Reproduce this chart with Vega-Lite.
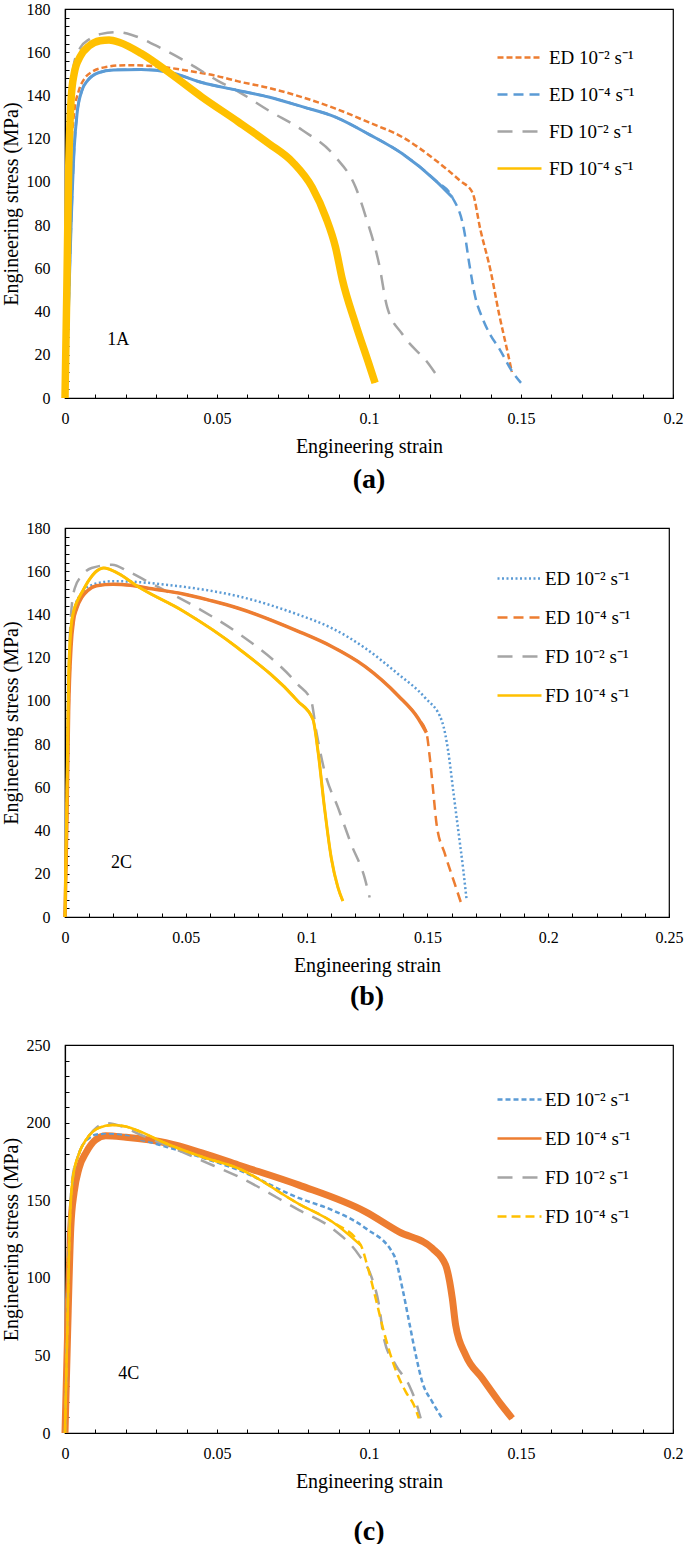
{
"$schema": "https://vega.github.io/schema/vega-lite/v6.json",
"padding": {"left": 0, "top": 0, "right": 5, "bottom": 5},
"background": "white",
"spacing": 24,
"resolve": {"scale": {"color": "independent", "strokeDash": "independent", "x": "independent", "y": "independent"}, "legend": {"color": "independent", "strokeDash": "independent"}},
"config": {
 "font": "Liberation Serif",
 "view": {"stroke": "#000", "strokeWidth": 1.2},
 "line": {"interpolate": "monotone"},
 "axis": {"grid": false, "domainColor": "#000", "domainWidth": 1.2, "tickColor": "#000", "tickSize": -4, "tickWidth": 1, "tickCount": 100, "labelColor": "#000", "labelFont": "Liberation Serif", "labelFontSize": 16, "titleFont": "Liberation Serif", "titleFontSize": 20, "titleFontWeight": "normal", "titleColor": "#000", "labelOverlap": false, "labelFlush": false},
 "axisX": {"labelPadding": 16, "titlePadding": 10},
 "axisY": {"labelPadding": 19, "titlePadding": 5},
 "legend": {"orient": "none", "labelFont": "Liberation Serif", "labelFontSize": 19, "labelColor": "#000", "symbolSize": 1936, "symbolStrokeWidth": 2.5, "symbolType": "stroke"},
 "title": {"font": "Liberation Serif", "fontSize": 28, "fontWeight": "bold", "color": "#000", "orient": "bottom", "frame": "group", "anchor": "middle"}
},
"datasets": {
 "a": [
  {"series": "ED 10⁻² s⁻¹", "phase": "hardening", "strain": 0, "stress": 0},
  {"series": "ED 10⁻² s⁻¹", "phase": "hardening", "strain": 0.0006, "stress": 40},
  {"series": "ED 10⁻² s⁻¹", "phase": "hardening", "strain": 0.0012, "stress": 85},
  {"series": "ED 10⁻² s⁻¹", "phase": "hardening", "strain": 0.002, "stress": 115},
  {"series": "ED 10⁻² s⁻¹", "phase": "hardening", "strain": 0.003, "stress": 132},
  {"series": "ED 10⁻² s⁻¹", "phase": "hardening", "strain": 0.0045, "stress": 142},
  {"series": "ED 10⁻² s⁻¹", "phase": "hardening", "strain": 0.0065, "stress": 148},
  {"series": "ED 10⁻² s⁻¹", "phase": "hardening", "strain": 0.009, "stress": 151},
  {"series": "ED 10⁻² s⁻¹", "phase": "hardening", "strain": 0.013, "stress": 153},
  {"series": "ED 10⁻² s⁻¹", "phase": "hardening", "strain": 0.02, "stress": 154},
  {"series": "ED 10⁻² s⁻¹", "phase": "hardening", "strain": 0.03, "stress": 153.5},
  {"series": "ED 10⁻² s⁻¹", "phase": "hardening", "strain": 0.04, "stress": 151.5},
  {"series": "ED 10⁻² s⁻¹", "phase": "hardening", "strain": 0.05, "stress": 149},
  {"series": "ED 10⁻² s⁻¹", "phase": "hardening", "strain": 0.057, "stress": 146.5},
  {"series": "ED 10⁻² s⁻¹", "phase": "hardening", "strain": 0.067, "stress": 143.5},
  {"series": "ED 10⁻² s⁻¹", "phase": "hardening", "strain": 0.078, "stress": 139.2},
  {"series": "ED 10⁻² s⁻¹", "phase": "hardening", "strain": 0.089, "stress": 133.9},
  {"series": "ED 10⁻² s⁻¹", "phase": "hardening", "strain": 0.1, "stress": 127.5},
  {"series": "ED 10⁻² s⁻¹", "phase": "hardening", "strain": 0.111, "stress": 120.7},
  {"series": "ED 10⁻² s⁻¹", "phase": "hardening", "strain": 0.122, "stress": 109.9},
  {"series": "ED 10⁻² s⁻¹", "phase": "hardening", "strain": 0.13, "stress": 100.5},
  {"series": "ED 10⁻² s⁻¹", "phase": "hardening", "strain": 0.134, "stress": 95.2},
  {"series": "ED 10⁻² s⁻¹", "phase": "fracture", "strain": 0.1367, "stress": 77.5},
  {"series": "ED 10⁻² s⁻¹", "phase": "fracture", "strain": 0.14, "stress": 58.9},
  {"series": "ED 10⁻² s⁻¹", "phase": "fracture", "strain": 0.1428, "stress": 38.8},
  {"series": "ED 10⁻² s⁻¹", "phase": "fracture", "strain": 0.1455, "stress": 21.8},
  {"series": "ED 10⁻² s⁻¹", "phase": "fracture", "strain": 0.147, "stress": 12},
  {"series": "ED 10⁻⁴ s⁻¹", "phase": "hardening", "strain": 0, "stress": 0},
  {"series": "ED 10⁻⁴ s⁻¹", "phase": "hardening", "strain": 0.001, "stress": 35},
  {"series": "ED 10⁻⁴ s⁻¹", "phase": "hardening", "strain": 0.002, "stress": 80},
  {"series": "ED 10⁻⁴ s⁻¹", "phase": "hardening", "strain": 0.003, "stress": 115},
  {"series": "ED 10⁻⁴ s⁻¹", "phase": "hardening", "strain": 0.004, "stress": 132},
  {"series": "ED 10⁻⁴ s⁻¹", "phase": "hardening", "strain": 0.0055, "stress": 142},
  {"series": "ED 10⁻⁴ s⁻¹", "phase": "hardening", "strain": 0.0075, "stress": 147},
  {"series": "ED 10⁻⁴ s⁻¹", "phase": "hardening", "strain": 0.011, "stress": 150.5},
  {"series": "ED 10⁻⁴ s⁻¹", "phase": "hardening", "strain": 0.016, "stress": 151.8},
  {"series": "ED 10⁻⁴ s⁻¹", "phase": "hardening", "strain": 0.025, "stress": 152},
  {"series": "ED 10⁻⁴ s⁻¹", "phase": "hardening", "strain": 0.035, "stress": 150.5},
  {"series": "ED 10⁻⁴ s⁻¹", "phase": "hardening", "strain": 0.045, "stress": 146},
  {"series": "ED 10⁻⁴ s⁻¹", "phase": "hardening", "strain": 0.057, "stress": 142.3},
  {"series": "ED 10⁻⁴ s⁻¹", "phase": "hardening", "strain": 0.067, "stress": 139.3},
  {"series": "ED 10⁻⁴ s⁻¹", "phase": "hardening", "strain": 0.078, "stress": 134.8},
  {"series": "ED 10⁻⁴ s⁻¹", "phase": "hardening", "strain": 0.089, "stress": 130},
  {"series": "ED 10⁻⁴ s⁻¹", "phase": "hardening", "strain": 0.1, "stress": 122},
  {"series": "ED 10⁻⁴ s⁻¹", "phase": "hardening", "strain": 0.111, "stress": 113},
  {"series": "ED 10⁻⁴ s⁻¹", "phase": "hardening", "strain": 0.1219, "stress": 100.6},
  {"series": "ED 10⁻⁴ s⁻¹", "phase": "hardening", "strain": 0.1274, "stress": 92.9},
  {"series": "ED 10⁻⁴ s⁻¹", "phase": "fracture", "strain": 0.1313, "stress": 77.5},
  {"series": "ED 10⁻⁴ s⁻¹", "phase": "fracture", "strain": 0.133, "stress": 62},
  {"series": "ED 10⁻⁴ s⁻¹", "phase": "fracture", "strain": 0.135, "stress": 46.5},
  {"series": "ED 10⁻⁴ s⁻¹", "phase": "fracture", "strain": 0.1373, "stress": 37},
  {"series": "ED 10⁻⁴ s⁻¹", "phase": "fracture", "strain": 0.14, "stress": 29},
  {"series": "ED 10⁻⁴ s⁻¹", "phase": "fracture", "strain": 0.1428, "stress": 23},
  {"series": "ED 10⁻⁴ s⁻¹", "phase": "fracture", "strain": 0.147, "stress": 12.5},
  {"series": "ED 10⁻⁴ s⁻¹", "phase": "fracture", "strain": 0.15, "stress": 7},
  {"series": "FD 10⁻² s⁻¹", "phase": "hardening", "strain": 0, "stress": 0},
  {"series": "FD 10⁻² s⁻¹", "phase": "hardening", "strain": 0.0006, "stress": 50},
  {"series": "FD 10⁻² s⁻¹", "phase": "hardening", "strain": 0.0012, "stress": 105},
  {"series": "FD 10⁻² s⁻¹", "phase": "hardening", "strain": 0.002, "stress": 140},
  {"series": "FD 10⁻² s⁻¹", "phase": "hardening", "strain": 0.003, "stress": 155},
  {"series": "FD 10⁻² s⁻¹", "phase": "hardening", "strain": 0.005, "stress": 162},
  {"series": "FD 10⁻² s⁻¹", "phase": "hardening", "strain": 0.008, "stress": 166},
  {"series": "FD 10⁻² s⁻¹", "phase": "hardening", "strain": 0.012, "stress": 168.5},
  {"series": "FD 10⁻² s⁻¹", "phase": "hardening", "strain": 0.017, "stress": 169.3},
  {"series": "FD 10⁻² s⁻¹", "phase": "hardening", "strain": 0.022, "stress": 168},
  {"series": "FD 10⁻² s⁻¹", "phase": "hardening", "strain": 0.03, "stress": 163},
  {"series": "FD 10⁻² s⁻¹", "phase": "hardening", "strain": 0.04, "stress": 155.5},
  {"series": "FD 10⁻² s⁻¹", "phase": "hardening", "strain": 0.05, "stress": 147},
  {"series": "FD 10⁻² s⁻¹", "phase": "hardening", "strain": 0.057, "stress": 141.8},
  {"series": "FD 10⁻² s⁻¹", "phase": "hardening", "strain": 0.067, "stress": 133},
  {"series": "FD 10⁻² s⁻¹", "phase": "hardening", "strain": 0.078, "stress": 124},
  {"series": "FD 10⁻² s⁻¹", "phase": "hardening", "strain": 0.089, "stress": 111.5},
  {"series": "FD 10⁻² s⁻¹", "phase": "hardening", "strain": 0.0956, "stress": 97.5},
  {"series": "FD 10⁻² s⁻¹", "phase": "fracture", "strain": 0.099, "stress": 83.6},
  {"series": "FD 10⁻² s⁻¹", "phase": "fracture", "strain": 0.1033, "stress": 62},
  {"series": "FD 10⁻² s⁻¹", "phase": "fracture", "strain": 0.106, "stress": 41.9},
  {"series": "FD 10⁻² s⁻¹", "phase": "fracture", "strain": 0.111, "stress": 29.5},
  {"series": "FD 10⁻² s⁻¹", "phase": "fracture", "strain": 0.1197, "stress": 15.6},
  {"series": "FD 10⁻² s⁻¹", "phase": "fracture", "strain": 0.122, "stress": 11},
  {"series": "FD 10⁻⁴ s⁻¹", "phase": "hardening", "strain": 0, "stress": 0},
  {"series": "FD 10⁻⁴ s⁻¹", "phase": "hardening", "strain": 0.0006, "stress": 50},
  {"series": "FD 10⁻⁴ s⁻¹", "phase": "hardening", "strain": 0.0012, "stress": 105},
  {"series": "FD 10⁻⁴ s⁻¹", "phase": "hardening", "strain": 0.002, "stress": 138},
  {"series": "FD 10⁻⁴ s⁻¹", "phase": "hardening", "strain": 0.003, "stress": 150},
  {"series": "FD 10⁻⁴ s⁻¹", "phase": "hardening", "strain": 0.005, "stress": 158},
  {"series": "FD 10⁻⁴ s⁻¹", "phase": "hardening", "strain": 0.008, "stress": 163},
  {"series": "FD 10⁻⁴ s⁻¹", "phase": "hardening", "strain": 0.0115, "stress": 165.3},
  {"series": "FD 10⁻⁴ s⁻¹", "phase": "hardening", "strain": 0.0145, "stress": 165.7},
  {"series": "FD 10⁻⁴ s⁻¹", "phase": "hardening", "strain": 0.018, "stress": 164.5},
  {"series": "FD 10⁻⁴ s⁻¹", "phase": "hardening", "strain": 0.025, "stress": 159.5},
  {"series": "FD 10⁻⁴ s⁻¹", "phase": "hardening", "strain": 0.035, "stress": 149.8},
  {"series": "FD 10⁻⁴ s⁻¹", "phase": "hardening", "strain": 0.045, "stress": 139.3},
  {"series": "FD 10⁻⁴ s⁻¹", "phase": "hardening", "strain": 0.057, "stress": 127.8},
  {"series": "FD 10⁻⁴ s⁻¹", "phase": "hardening", "strain": 0.067, "stress": 117.8},
  {"series": "FD 10⁻⁴ s⁻¹", "phase": "hardening", "strain": 0.075, "stress": 109},
  {"series": "FD 10⁻⁴ s⁻¹", "phase": "hardening", "strain": 0.0813, "stress": 97.5},
  {"series": "FD 10⁻⁴ s⁻¹", "phase": "fracture", "strain": 0.0858, "stress": 83.6},
  {"series": "FD 10⁻⁴ s⁻¹", "phase": "fracture", "strain": 0.089, "stress": 69.7},
  {"series": "FD 10⁻⁴ s⁻¹", "phase": "fracture", "strain": 0.0912, "stress": 55},
  {"series": "FD 10⁻⁴ s⁻¹", "phase": "fracture", "strain": 0.0956, "stress": 34.2},
  {"series": "FD 10⁻⁴ s⁻¹", "phase": "fracture", "strain": 0.1, "stress": 15.6},
  {"series": "FD 10⁻⁴ s⁻¹", "phase": "fracture", "strain": 0.102, "stress": 7}
 ],
 "b": [
  {"series": "ED 10⁻² s⁻¹", "phase": "hardening", "strain": 0, "stress": 0},
  {"series": "ED 10⁻² s⁻¹", "phase": "hardening", "strain": 0.0008, "stress": 50},
  {"series": "ED 10⁻² s⁻¹", "phase": "hardening", "strain": 0.0015, "stress": 100},
  {"series": "ED 10⁻² s⁻¹", "phase": "hardening", "strain": 0.0025, "stress": 130},
  {"series": "ED 10⁻² s⁻¹", "phase": "hardening", "strain": 0.004, "stress": 143},
  {"series": "ED 10⁻² s⁻¹", "phase": "hardening", "strain": 0.007, "stress": 150},
  {"series": "ED 10⁻² s⁻¹", "phase": "hardening", "strain": 0.012, "stress": 154},
  {"series": "ED 10⁻² s⁻¹", "phase": "hardening", "strain": 0.02, "stress": 155.4},
  {"series": "ED 10⁻² s⁻¹", "phase": "hardening", "strain": 0.03, "stress": 155},
  {"series": "ED 10⁻² s⁻¹", "phase": "hardening", "strain": 0.04, "stress": 154},
  {"series": "ED 10⁻² s⁻¹", "phase": "hardening", "strain": 0.049, "stress": 152.8},
  {"series": "ED 10⁻² s⁻¹", "phase": "hardening", "strain": 0.06, "stress": 151},
  {"series": "ED 10⁻² s⁻¹", "phase": "hardening", "strain": 0.0714, "stress": 148.5},
  {"series": "ED 10⁻² s⁻¹", "phase": "hardening", "strain": 0.0963, "stress": 140},
  {"series": "ED 10⁻² s⁻¹", "phase": "hardening", "strain": 0.11, "stress": 133.9},
  {"series": "ED 10⁻² s⁻¹", "phase": "hardening", "strain": 0.124, "stress": 124.6},
  {"series": "ED 10⁻² s⁻¹", "phase": "hardening", "strain": 0.138, "stress": 112.3},
  {"series": "ED 10⁻² s⁻¹", "phase": "hardening", "strain": 0.149, "stress": 101.5},
  {"series": "ED 10⁻² s⁻¹", "phase": "hardening", "strain": 0.156, "stress": 90.7},
  {"series": "ED 10⁻² s⁻¹", "phase": "fracture", "strain": 0.1586, "stress": 76.8},
  {"series": "ED 10⁻² s⁻¹", "phase": "fracture", "strain": 0.1607, "stress": 58.3},
  {"series": "ED 10⁻² s⁻¹", "phase": "fracture", "strain": 0.1628, "stress": 39.8},
  {"series": "ED 10⁻² s⁻¹", "phase": "fracture", "strain": 0.1649, "stress": 21.3},
  {"series": "ED 10⁻² s⁻¹", "phase": "fracture", "strain": 0.1662, "stress": 8.2},
  {"series": "ED 10⁻⁴ s⁻¹", "phase": "hardening", "strain": 0, "stress": 0},
  {"series": "ED 10⁻⁴ s⁻¹", "phase": "hardening", "strain": 0.0008, "stress": 45},
  {"series": "ED 10⁻⁴ s⁻¹", "phase": "hardening", "strain": 0.0015, "stress": 95},
  {"series": "ED 10⁻⁴ s⁻¹", "phase": "hardening", "strain": 0.0025, "stress": 125},
  {"series": "ED 10⁻⁴ s⁻¹", "phase": "hardening", "strain": 0.0035, "stress": 137},
  {"series": "ED 10⁻⁴ s⁻¹", "phase": "hardening", "strain": 0.0049, "stress": 143},
  {"series": "ED 10⁻⁴ s⁻¹", "phase": "hardening", "strain": 0.007, "stress": 148},
  {"series": "ED 10⁻⁴ s⁻¹", "phase": "hardening", "strain": 0.0093, "stress": 151},
  {"series": "ED 10⁻⁴ s⁻¹", "phase": "hardening", "strain": 0.013, "stress": 153.3},
  {"series": "ED 10⁻⁴ s⁻¹", "phase": "hardening", "strain": 0.02, "stress": 154},
  {"series": "ED 10⁻⁴ s⁻¹", "phase": "hardening", "strain": 0.027, "stress": 153.5},
  {"series": "ED 10⁻⁴ s⁻¹", "phase": "hardening", "strain": 0.035, "stress": 152},
  {"series": "ED 10⁻⁴ s⁻¹", "phase": "hardening", "strain": 0.049, "stress": 149.5},
  {"series": "ED 10⁻⁴ s⁻¹", "phase": "hardening", "strain": 0.06, "stress": 146.5},
  {"series": "ED 10⁻⁴ s⁻¹", "phase": "hardening", "strain": 0.0714, "stress": 143},
  {"series": "ED 10⁻⁴ s⁻¹", "phase": "hardening", "strain": 0.0963, "stress": 132.3},
  {"series": "ED 10⁻⁴ s⁻¹", "phase": "hardening", "strain": 0.11, "stress": 125.4},
  {"series": "ED 10⁻⁴ s⁻¹", "phase": "hardening", "strain": 0.124, "stress": 116.1},
  {"series": "ED 10⁻⁴ s⁻¹", "phase": "hardening", "strain": 0.138, "stress": 102.3},
  {"series": "ED 10⁻⁴ s⁻¹", "phase": "hardening", "strain": 0.146, "stress": 92.2},
  {"series": "ED 10⁻⁴ s⁻¹", "phase": "hardening", "strain": 0.1496, "stress": 85.3},
  {"series": "ED 10⁻⁴ s⁻¹", "phase": "fracture", "strain": 0.151, "stress": 73.7},
  {"series": "ED 10⁻⁴ s⁻¹", "phase": "fracture", "strain": 0.1524, "stress": 58.3},
  {"series": "ED 10⁻⁴ s⁻¹", "phase": "fracture", "strain": 0.1538, "stress": 42.9},
  {"series": "ED 10⁻⁴ s⁻¹", "phase": "fracture", "strain": 0.1573, "stress": 29},
  {"series": "ED 10⁻⁴ s⁻¹", "phase": "fracture", "strain": 0.1614, "stress": 15.1},
  {"series": "ED 10⁻⁴ s⁻¹", "phase": "fracture", "strain": 0.1639, "stress": 6.6},
  {"series": "FD 10⁻² s⁻¹", "phase": "hardening", "strain": 0, "stress": 0},
  {"series": "FD 10⁻² s⁻¹", "phase": "hardening", "strain": 0.0008, "stress": 55},
  {"series": "FD 10⁻² s⁻¹", "phase": "hardening", "strain": 0.0015, "stress": 110},
  {"series": "FD 10⁻² s⁻¹", "phase": "hardening", "strain": 0.0025, "stress": 140},
  {"series": "FD 10⁻² s⁻¹", "phase": "hardening", "strain": 0.004, "stress": 152},
  {"series": "FD 10⁻² s⁻¹", "phase": "hardening", "strain": 0.007, "stress": 158},
  {"series": "FD 10⁻² s⁻¹", "phase": "hardening", "strain": 0.011, "stress": 161.5},
  {"series": "FD 10⁻² s⁻¹", "phase": "hardening", "strain": 0.0195, "stress": 163},
  {"series": "FD 10⁻² s⁻¹", "phase": "hardening", "strain": 0.026, "stress": 160},
  {"series": "FD 10⁻² s⁻¹", "phase": "hardening", "strain": 0.0339, "stress": 155.4},
  {"series": "FD 10⁻² s⁻¹", "phase": "hardening", "strain": 0.0548, "stress": 143},
  {"series": "FD 10⁻² s⁻¹", "phase": "hardening", "strain": 0.0714, "stress": 131.5},
  {"series": "FD 10⁻² s⁻¹", "phase": "hardening", "strain": 0.0963, "stress": 107.7},
  {"series": "FD 10⁻² s⁻¹", "phase": "hardening", "strain": 0.1019, "stress": 100},
  {"series": "FD 10⁻² s⁻¹", "phase": "fracture", "strain": 0.104, "stress": 86},
  {"series": "FD 10⁻² s⁻¹", "phase": "fracture", "strain": 0.1074, "stress": 67.6},
  {"series": "FD 10⁻² s⁻¹", "phase": "fracture", "strain": 0.113, "stress": 50.6},
  {"series": "FD 10⁻² s⁻¹", "phase": "fracture", "strain": 0.1185, "stress": 33.6},
  {"series": "FD 10⁻² s⁻¹", "phase": "fracture", "strain": 0.124, "stress": 18.2},
  {"series": "FD 10⁻² s⁻¹", "phase": "fracture", "strain": 0.1261, "stress": 9},
  {"series": "FD 10⁻⁴ s⁻¹", "phase": "hardening", "strain": 0, "stress": 0},
  {"series": "FD 10⁻⁴ s⁻¹", "phase": "hardening", "strain": 0.0008, "stress": 55},
  {"series": "FD 10⁻⁴ s⁻¹", "phase": "hardening", "strain": 0.0015, "stress": 110},
  {"series": "FD 10⁻⁴ s⁻¹", "phase": "hardening", "strain": 0.0025, "stress": 134},
  {"series": "FD 10⁻⁴ s⁻¹", "phase": "hardening", "strain": 0.0035, "stress": 141},
  {"series": "FD 10⁻⁴ s⁻¹", "phase": "hardening", "strain": 0.005, "stress": 146},
  {"series": "FD 10⁻⁴ s⁻¹", "phase": "hardening", "strain": 0.0069, "stress": 150},
  {"series": "FD 10⁻⁴ s⁻¹", "phase": "hardening", "strain": 0.01, "stress": 156},
  {"series": "FD 10⁻⁴ s⁻¹", "phase": "hardening", "strain": 0.013, "stress": 160},
  {"series": "FD 10⁻⁴ s⁻¹", "phase": "hardening", "strain": 0.016, "stress": 161.5},
  {"series": "FD 10⁻⁴ s⁻¹", "phase": "hardening", "strain": 0.022, "stress": 159},
  {"series": "FD 10⁻⁴ s⁻¹", "phase": "hardening", "strain": 0.03, "stress": 153},
  {"series": "FD 10⁻⁴ s⁻¹", "phase": "hardening", "strain": 0.049, "stress": 141.5},
  {"series": "FD 10⁻⁴ s⁻¹", "phase": "hardening", "strain": 0.0714, "stress": 124.6},
  {"series": "FD 10⁻⁴ s⁻¹", "phase": "hardening", "strain": 0.0963, "stress": 100},
  {"series": "FD 10⁻⁴ s⁻¹", "phase": "hardening", "strain": 0.1026, "stress": 91.5},
  {"series": "FD 10⁻⁴ s⁻¹", "phase": "fracture", "strain": 0.1047, "stress": 76.8},
  {"series": "FD 10⁻⁴ s⁻¹", "phase": "fracture", "strain": 0.1074, "stress": 50.6},
  {"series": "FD 10⁻⁴ s⁻¹", "phase": "fracture", "strain": 0.1102, "stress": 27.4},
  {"series": "FD 10⁻⁴ s⁻¹", "phase": "fracture", "strain": 0.113, "stress": 13.6},
  {"series": "FD 10⁻⁴ s⁻¹", "phase": "fracture", "strain": 0.115, "stress": 7.4}
 ],
 "c": [
  {"series": "ED 10⁻² s⁻¹", "phase": "hardening", "strain": 0, "stress": 0},
  {"series": "ED 10⁻² s⁻¹", "phase": "hardening", "strain": 0.0008, "stress": 70},
  {"series": "ED 10⁻² s⁻¹", "phase": "hardening", "strain": 0.0015, "stress": 130},
  {"series": "ED 10⁻² s⁻¹", "phase": "hardening", "strain": 0.0025, "stress": 162},
  {"series": "ED 10⁻² s⁻¹", "phase": "hardening", "strain": 0.0046, "stress": 180},
  {"series": "ED 10⁻² s⁻¹", "phase": "hardening", "strain": 0.0073, "stress": 189},
  {"series": "ED 10⁻² s⁻¹", "phase": "hardening", "strain": 0.011, "stress": 192.5},
  {"series": "ED 10⁻² s⁻¹", "phase": "hardening", "strain": 0.016, "stress": 192.5},
  {"series": "ED 10⁻² s⁻¹", "phase": "hardening", "strain": 0.025, "stress": 189},
  {"series": "ED 10⁻² s⁻¹", "phase": "hardening", "strain": 0.0331, "stress": 184.5},
  {"series": "ED 10⁻² s⁻¹", "phase": "hardening", "strain": 0.045, "stress": 177.5},
  {"series": "ED 10⁻² s⁻¹", "phase": "hardening", "strain": 0.057, "stress": 169.5},
  {"series": "ED 10⁻² s⁻¹", "phase": "hardening", "strain": 0.077, "stress": 151.3},
  {"series": "ED 10⁻² s⁻¹", "phase": "hardening", "strain": 0.0879, "stress": 143.6},
  {"series": "ED 10⁻² s⁻¹", "phase": "hardening", "strain": 0.0989, "stress": 131.9},
  {"series": "ED 10⁻² s⁻¹", "phase": "hardening", "strain": 0.1082, "stress": 114.6},
  {"series": "ED 10⁻² s⁻¹", "phase": "fracture", "strain": 0.111, "stress": 93.1},
  {"series": "ED 10⁻² s⁻¹", "phase": "fracture", "strain": 0.1132, "stress": 71.6},
  {"series": "ED 10⁻² s⁻¹", "phase": "fracture", "strain": 0.1154, "stress": 50.2},
  {"series": "ED 10⁻² s⁻¹", "phase": "fracture", "strain": 0.1175, "stress": 33},
  {"series": "ED 10⁻² s⁻¹", "phase": "fracture", "strain": 0.1208, "stress": 20.1},
  {"series": "ED 10⁻² s⁻¹", "phase": "fracture", "strain": 0.1241, "stress": 9.4},
  {"series": "ED 10⁻⁴ s⁻¹", "phase": "hardening", "strain": 0, "stress": 0},
  {"series": "ED 10⁻⁴ s⁻¹", "phase": "hardening", "strain": 0.0008, "stress": 60},
  {"series": "ED 10⁻⁴ s⁻¹", "phase": "hardening", "strain": 0.0019, "stress": 132},
  {"series": "ED 10⁻⁴ s⁻¹", "phase": "hardening", "strain": 0.003, "stress": 155},
  {"series": "ED 10⁻⁴ s⁻¹", "phase": "hardening", "strain": 0.0046, "stress": 170.5},
  {"series": "ED 10⁻⁴ s⁻¹", "phase": "hardening", "strain": 0.007, "stress": 181},
  {"series": "ED 10⁻⁴ s⁻¹", "phase": "hardening", "strain": 0.0101, "stress": 189},
  {"series": "ED 10⁻⁴ s⁻¹", "phase": "hardening", "strain": 0.0134, "stress": 191.5},
  {"series": "ED 10⁻⁴ s⁻¹", "phase": "hardening", "strain": 0.02, "stress": 190.5},
  {"series": "ED 10⁻⁴ s⁻¹", "phase": "hardening", "strain": 0.0331, "stress": 187},
  {"series": "ED 10⁻⁴ s⁻¹", "phase": "hardening", "strain": 0.045, "stress": 180.5},
  {"series": "ED 10⁻⁴ s⁻¹", "phase": "hardening", "strain": 0.057, "stress": 172.7},
  {"series": "ED 10⁻⁴ s⁻¹", "phase": "hardening", "strain": 0.077, "stress": 159.7},
  {"series": "ED 10⁻⁴ s⁻¹", "phase": "hardening", "strain": 0.0989, "stress": 142.5},
  {"series": "ED 10⁻⁴ s⁻¹", "phase": "hardening", "strain": 0.1099, "stress": 129.6},
  {"series": "ED 10⁻⁴ s⁻¹", "phase": "hardening", "strain": 0.1208, "stress": 119},
  {"series": "ED 10⁻⁴ s⁻¹", "phase": "hardening", "strain": 0.1252, "stress": 108.2},
  {"series": "ED 10⁻⁴ s⁻¹", "phase": "fracture", "strain": 0.1274, "stress": 86.8},
  {"series": "ED 10⁻⁴ s⁻¹", "phase": "fracture", "strain": 0.1285, "stress": 69.5},
  {"series": "ED 10⁻⁴ s⁻¹", "phase": "fracture", "strain": 0.1318, "stress": 50.2},
  {"series": "ED 10⁻⁴ s⁻¹", "phase": "fracture", "strain": 0.1373, "stress": 35.1},
  {"series": "ED 10⁻⁴ s⁻¹", "phase": "fracture", "strain": 0.1428, "stress": 20.1},
  {"series": "ED 10⁻⁴ s⁻¹", "phase": "fracture", "strain": 0.1471, "stress": 9.4},
  {"series": "FD 10⁻² s⁻¹", "phase": "hardening", "strain": 0, "stress": 0},
  {"series": "FD 10⁻² s⁻¹", "phase": "hardening", "strain": 0.0008, "stress": 75},
  {"series": "FD 10⁻² s⁻¹", "phase": "hardening", "strain": 0.0015, "stress": 135},
  {"series": "FD 10⁻² s⁻¹", "phase": "hardening", "strain": 0.0025, "stress": 165},
  {"series": "FD 10⁻² s⁻¹", "phase": "hardening", "strain": 0.0046, "stress": 180},
  {"series": "FD 10⁻² s⁻¹", "phase": "hardening", "strain": 0.0073, "stress": 190},
  {"series": "FD 10⁻² s⁻¹", "phase": "hardening", "strain": 0.0105, "stress": 197},
  {"series": "FD 10⁻² s⁻¹", "phase": "hardening", "strain": 0.0134, "stress": 199.6},
  {"series": "FD 10⁻² s⁻¹", "phase": "hardening", "strain": 0.018, "stress": 198},
  {"series": "FD 10⁻² s⁻¹", "phase": "hardening", "strain": 0.025, "stress": 192},
  {"series": "FD 10⁻² s⁻¹", "phase": "hardening", "strain": 0.0331, "stress": 185.6},
  {"series": "FD 10⁻² s⁻¹", "phase": "hardening", "strain": 0.045, "stress": 175.5},
  {"series": "FD 10⁻² s⁻¹", "phase": "hardening", "strain": 0.057, "stress": 165.2},
  {"series": "FD 10⁻² s⁻¹", "phase": "hardening", "strain": 0.077, "stress": 143.6},
  {"series": "FD 10⁻² s⁻¹", "phase": "hardening", "strain": 0.0879, "stress": 131.8},
  {"series": "FD 10⁻² s⁻¹", "phase": "hardening", "strain": 0.0967, "stress": 114.6},
  {"series": "FD 10⁻² s⁻¹", "phase": "fracture", "strain": 0.1006, "stress": 101.7},
  {"series": "FD 10⁻² s⁻¹", "phase": "fracture", "strain": 0.1033, "stress": 82.4},
  {"series": "FD 10⁻² s⁻¹", "phase": "fracture", "strain": 0.1049, "stress": 60.9},
  {"series": "FD 10⁻² s⁻¹", "phase": "fracture", "strain": 0.1088, "stress": 43.7},
  {"series": "FD 10⁻² s⁻¹", "phase": "fracture", "strain": 0.1132, "stress": 30.8},
  {"series": "FD 10⁻² s⁻¹", "phase": "fracture", "strain": 0.1154, "stress": 20.1},
  {"series": "FD 10⁻² s⁻¹", "phase": "fracture", "strain": 0.117, "stress": 9.4},
  {"series": "FD 10⁻⁴ s⁻¹", "phase": "hardening", "strain": 0, "stress": 0},
  {"series": "FD 10⁻⁴ s⁻¹", "phase": "hardening", "strain": 0.0008, "stress": 70},
  {"series": "FD 10⁻⁴ s⁻¹", "phase": "hardening", "strain": 0.0015, "stress": 130},
  {"series": "FD 10⁻⁴ s⁻¹", "phase": "hardening", "strain": 0.0025, "stress": 163},
  {"series": "FD 10⁻⁴ s⁻¹", "phase": "hardening", "strain": 0.0046, "stress": 180},
  {"series": "FD 10⁻⁴ s⁻¹", "phase": "hardening", "strain": 0.0073, "stress": 190},
  {"series": "FD 10⁻⁴ s⁻¹", "phase": "hardening", "strain": 0.011, "stress": 196.5},
  {"series": "FD 10⁻⁴ s⁻¹", "phase": "hardening", "strain": 0.0156, "stress": 198.5},
  {"series": "FD 10⁻⁴ s⁻¹", "phase": "hardening", "strain": 0.02, "stress": 197.5},
  {"series": "FD 10⁻⁴ s⁻¹", "phase": "hardening", "strain": 0.025, "stress": 194},
  {"series": "FD 10⁻⁴ s⁻¹", "phase": "hardening", "strain": 0.0331, "stress": 186.7},
  {"series": "FD 10⁻⁴ s⁻¹", "phase": "hardening", "strain": 0.045, "stress": 178},
  {"series": "FD 10⁻⁴ s⁻¹", "phase": "hardening", "strain": 0.057, "stress": 170.5},
  {"series": "FD 10⁻⁴ s⁻¹", "phase": "hardening", "strain": 0.077, "stress": 147.5},
  {"series": "FD 10⁻⁴ s⁻¹", "phase": "hardening", "strain": 0.0879, "stress": 136.1},
  {"series": "FD 10⁻⁴ s⁻¹", "phase": "hardening", "strain": 0.0973, "stress": 121},
  {"series": "FD 10⁻⁴ s⁻¹", "phase": "fracture", "strain": 0.0994, "stress": 108.1},
  {"series": "FD 10⁻⁴ s⁻¹", "phase": "fracture", "strain": 0.1022, "stress": 86.7},
  {"series": "FD 10⁻⁴ s⁻¹", "phase": "fracture", "strain": 0.1049, "stress": 65.2},
  {"series": "FD 10⁻⁴ s⁻¹", "phase": "fracture", "strain": 0.1082, "stress": 43.7},
  {"series": "FD 10⁻⁴ s⁻¹", "phase": "fracture", "strain": 0.1121, "stress": 26.5},
  {"series": "FD 10⁻⁴ s⁻¹", "phase": "fracture", "strain": 0.1148, "stress": 17.9},
  {"series": "FD 10⁻⁴ s⁻¹", "phase": "fracture", "strain": 0.1164, "stress": 9.4}
 ],
 "note_a": [{"label": "1A", "strain": 0.0175, "stress": 27}],
 "note_b": [{"label": "2C", "strain": 0.0234, "stress": 25}],
 "note_c": [{"label": "4C", "strain": 0.021, "stress": 38}]
},
"vconcat": [
 {
  "width": 608, "height": 389,
  "title": {"text": "(a)", "offset": 10},
  "data": {"name": "a"},
  "layer": [
   {"mark": {"type": "line", "strokeWidth": 2.5},
    "encoding": {
     "x": {"field": "strain", "type": "quantitative", "scale": {"domain": [0, 0.2], "nice": false}, "axis": {"title": "Engineering strain", "tickCount": 100, "labelOverlap": false, "values": [0,0.01,0.02,0.03,0.04,0.05,0.06,0.07,0.08,0.09,0.1,0.11,0.12,0.13,0.14,0.15,0.16,0.17,0.18,0.19,0.2], "labelExpr": "abs(round(datum.value*100) % 5) === 0 ? toString(datum.value) : ''"}},
     "y": {"field": "stress", "type": "quantitative", "scale": {"domain": [0, 180], "nice": false}, "axis": {"title": "Engineering stress (MPa)", "tickCount": 100, "labelOverlap": false, "values": [0,4,8,12,16,20,24,28,32,36,40,44,48,52,56,60,64,68,72,76,80,84,88,92,96,100,104,108,112,116,120,124,128,132,136,140,144,148,152,156,160,164,168,172,176,180], "labelExpr": "datum.value % 20 === 0 ? toString(datum.value) : ''"}},
     "color": {"field": "series", "type": "nominal", "scale": {"domain": ["ED 10⁻² s⁻¹", "ED 10⁻⁴ s⁻¹", "FD 10⁻² s⁻¹", "FD 10⁻⁴ s⁻¹"], "range": ["#ED7D31", "#5B9BD5", "#A5A5A5", "#FFC000"]}, "legend": {"title": null, "legendX": 431, "legendY": 25, "labelOffset": 6, "rowPadding": 3}},
     "strokeDash": {"field": "series", "type": "nominal", "scale": {"domain": ["ED 10⁻² s⁻¹", "ED 10⁻⁴ s⁻¹", "FD 10⁻² s⁻¹", "FD 10⁻⁴ s⁻¹"], "range": [[6,3],[10,6],[15,10],[1,0]]}, "legend": {"title": null, "legendX": 431, "legendY": 25, "labelOffset": 6, "rowPadding": 3}}
    }},
   {"transform": [{"filter": "datum.series === 'ED 10⁻⁴ s⁻¹' && datum.phase === 'hardening'"}],
    "mark": {"type": "line", "strokeWidth": 3, "color": "#5B9BD5"},
    "encoding": {"x": {"field": "strain", "type": "quantitative"}, "y": {"field": "stress", "type": "quantitative"}}},
   {"transform": [{"filter": "datum.series === 'FD 10⁻⁴ s⁻¹'"}],
    "mark": {"type": "line", "strokeWidth": 7.5, "color": "#FFC000"},
    "encoding": {"x": {"field": "strain", "type": "quantitative"}, "y": {"field": "stress", "type": "quantitative"}}},
   {"data": {"name": "note_a"},
    "mark": {"type": "text", "font": "Liberation Serif", "fontSize": 18, "color": "#000", "align": "center", "baseline": "middle"},
    "encoding": {"x": {"field": "strain", "type": "quantitative"}, "y": {"field": "stress", "type": "quantitative"}, "text": {"field": "label"}}}
  ]
 },
 {
  "width": 604, "height": 389,
  "title": {"text": "(b)", "offset": 8},
  "data": {"name": "b"},
  "layer": [
   {"mark": {"type": "line", "strokeWidth": 2.5},
    "encoding": {
     "x": {"field": "strain", "type": "quantitative", "scale": {"domain": [0, 0.25], "nice": false}, "axis": {"title": "Engineering strain", "tickCount": 100, "labelOverlap": false, "values": [0,0.01,0.02,0.03,0.04,0.05,0.06,0.07,0.08,0.09,0.1,0.11,0.12,0.13,0.14,0.15,0.16,0.17,0.18,0.19,0.2,0.21,0.22,0.23,0.24,0.25], "labelExpr": "abs(round(datum.value*100) % 5) === 0 ? toString(datum.value) : ''"}},
     "y": {"field": "stress", "type": "quantitative", "scale": {"domain": [0, 180], "nice": false}, "axis": {"title": "Engineering stress (MPa)", "tickCount": 100, "labelOverlap": false, "values": [0,4,8,12,16,20,24,28,32,36,40,44,48,52,56,60,64,68,72,76,80,84,88,92,96,100,104,108,112,116,120,124,128,132,136,140,144,148,152,156,160,164,168,172,176,180], "labelExpr": "datum.value % 20 === 0 ? toString(datum.value) : ''"}},
     "color": {"field": "series", "type": "nominal", "scale": {"domain": ["ED 10⁻² s⁻¹", "ED 10⁻⁴ s⁻¹", "FD 10⁻² s⁻¹", "FD 10⁻⁴ s⁻¹"], "range": ["#5B9BD5", "#ED7D31", "#A5A5A5", "#FFC000"]}, "legend": {"title": null, "legendX": 431, "legendY": 27, "labelOffset": 2, "rowPadding": 5}},
     "strokeDash": {"field": "series", "type": "nominal", "scale": {"domain": ["ED 10⁻² s⁻¹", "ED 10⁻⁴ s⁻¹", "FD 10⁻² s⁻¹", "FD 10⁻⁴ s⁻¹"], "range": [[2,2.5],[10,6],[15,10],[1,0]]}, "legend": {"title": null, "legendX": 431, "legendY": 27, "labelOffset": 2, "rowPadding": 5}}
    }},
   {"transform": [{"filter": "datum.series === 'ED 10⁻⁴ s⁻¹' && datum.phase === 'hardening'"}],
    "mark": {"type": "line", "strokeWidth": 3.5, "color": "#ED7D31"},
    "encoding": {"x": {"field": "strain", "type": "quantitative"}, "y": {"field": "stress", "type": "quantitative"}}},
   {"transform": [{"filter": "datum.series === 'FD 10⁻⁴ s⁻¹'"}],
    "mark": {"type": "line", "strokeWidth": 3, "color": "#FFC000"},
    "encoding": {"x": {"field": "strain", "type": "quantitative"}, "y": {"field": "stress", "type": "quantitative"}}},
   {"data": {"name": "note_b"},
    "mark": {"type": "text", "font": "Liberation Serif", "fontSize": 18, "color": "#000", "align": "center", "baseline": "middle"},
    "encoding": {"x": {"field": "strain", "type": "quantitative"}, "y": {"field": "stress", "type": "quantitative"}, "text": {"field": "label"}}}
  ]
 },
 {
  "width": 608, "height": 388,
  "title": {"text": "(c)", "offset": 27},
  "data": {"name": "c"},
  "layer": [
   {"transform": [{"filter": "datum.series === 'ED 10⁻⁴ s⁻¹'"}],
    "mark": {"type": "line", "strokeWidth": 7, "color": "#ED7D31"},
    "encoding": {"x": {"field": "strain", "type": "quantitative", "scale": {"domain": [0, 0.2], "nice": false}, "axis": {"title": "Engineering strain", "tickCount": 100, "labelOverlap": false, "values": [0,0.01,0.02,0.03,0.04,0.05,0.06,0.07,0.08,0.09,0.1,0.11,0.12,0.13,0.14,0.15,0.16,0.17,0.18,0.19,0.2], "labelExpr": "abs(round(datum.value*100) % 5) === 0 ? toString(datum.value) : ''"}},
     "y": {"field": "stress", "type": "quantitative", "scale": {"domain": [0, 250], "nice": false}, "axis": {"title": "Engineering stress (MPa)", "tickCount": 100, "labelOverlap": false, "values": [0,10,20,30,40,50,60,70,80,90,100,110,120,130,140,150,160,170,180,190,200,210,220,230,240,250], "labelExpr": "datum.value % 50 === 0 ? toString(datum.value) : ''"}}}},
   {"mark": {"type": "line", "strokeWidth": 2.5},
    "encoding": {
     "x": {"field": "strain", "type": "quantitative"},
     "y": {"field": "stress", "type": "quantitative"},
     "color": {"field": "series", "type": "nominal", "scale": {"domain": ["ED 10⁻² s⁻¹", "ED 10⁻⁴ s⁻¹", "FD 10⁻² s⁻¹", "FD 10⁻⁴ s⁻¹"], "range": ["#5B9BD5", "#ED7D31", "#A5A5A5", "#FFC000"]}, "legend": {"title": null, "legendX": 431, "legendY": 31, "labelOffset": 2, "rowPadding": 5}},
     "strokeDash": {"field": "series", "type": "nominal", "scale": {"domain": ["ED 10⁻² s⁻¹", "ED 10⁻⁴ s⁻¹", "FD 10⁻² s⁻¹", "FD 10⁻⁴ s⁻¹"], "range": [[5,3],[1,0],[15,10],[9,5]]}, "legend": {"title": null, "legendX": 431, "legendY": 31, "labelOffset": 2, "rowPadding": 5}}
    }},
   {"transform": [{"filter": "datum.series === 'FD 10⁻⁴ s⁻¹' && datum.phase === 'hardening'"}],
    "mark": {"type": "line", "strokeWidth": 2.5, "color": "#FFC000"},
    "encoding": {"x": {"field": "strain", "type": "quantitative"}, "y": {"field": "stress", "type": "quantitative"}}},
   {"data": {"name": "note_c"},
    "mark": {"type": "text", "font": "Liberation Serif", "fontSize": 18, "color": "#000", "align": "center", "baseline": "middle"},
    "encoding": {"x": {"field": "strain", "type": "quantitative"}, "y": {"field": "stress", "type": "quantitative"}, "text": {"field": "label"}}}
  ]
 }
]
}
